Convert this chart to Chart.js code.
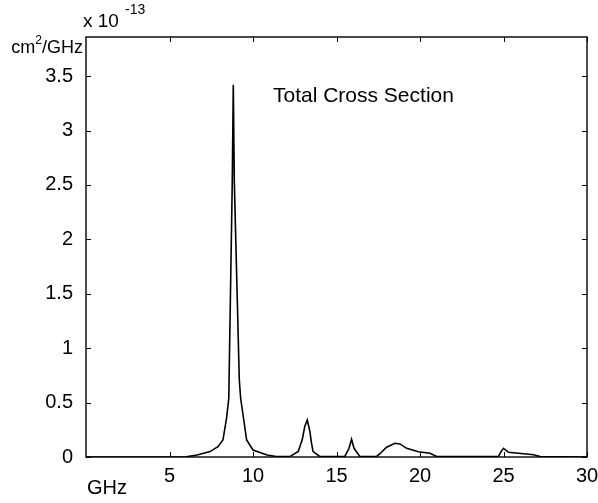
<!DOCTYPE html>
<html>
<head>
<meta charset="utf-8">
<script src="https://cdn.jsdelivr.net/npm/chart.js@4/dist/chart.umd.min.js"></script>
<style>
  html, body { margin: 0; padding: 0; background: #fff; }
  canvas { display: block; }
</style>
</head>
<body>
<canvas id="c" width="598" height="503"></canvas>
<script>
// ---- data ----
const freqGHz = [0, 5.9, 6.65, 7.43, 7.9, 8.2, 8.42, 8.55, 8.76, 8.82, 8.88, 9.18, 9.26, 9.62, 10.0, 10.84, 11.4,
  12.2, 12.71, 12.95, 13.1, 13.25, 13.4, 13.5, 13.6, 14.0,
  15.5, 15.75, 15.9, 16.05, 16.4,
  17.4, 17.6, 18.0, 18.5, 18.8, 19.2, 19.9, 20.6, 21.0,
  24.7, 24.85, 25.0, 25.15, 25.3, 26.8, 27.2, 30];
const crossSection = [0, 0, 0.018, 0.05, 0.095, 0.156, 0.36, 0.54, 2.54, 3.42, 2.54, 0.707, 0.54, 0.156, 0.064, 0.018, 0.005,
  0.004, 0.05, 0.16, 0.28, 0.34, 0.24, 0.13, 0.05, 0.005,
  0.005, 0.08, 0.163, 0.08, 0.005,
  0.005, 0.03, 0.09, 0.126, 0.12, 0.08, 0.049, 0.034, 0.005,
  0.005, 0.05, 0.08, 0.06, 0.043, 0.02, 0.004, 0];
const xTicks = [5, 10, 15, 20, 25, 30];
const yTicks = [0, 0.5, 1, 1.5, 2, 2.5, 3, 3.5];
const yLabels = ['0', '0.5', '1', '1.5', '2', '2.5', '3', '3.5'];
const plotTitle = 'Total Cross Section';
const xUnit = 'GHz';
const yUnit = 'cm²/GHz';

const FONT = '"Liberation Sans", Arial, Helvetica, sans-serif';

const boxPlugin = {
  id: 'boxPlugin',
  afterDraw(chart) {
    const ctx = chart.ctx;
    const a = chart.chartArea;
    const xs = chart.scales.x, ys = chart.scales.y;
    const tl = 5;
    ctx.save();
    ctx.strokeStyle = '#000';
    ctx.lineWidth = 1.4;
    ctx.strokeRect(a.left, a.top, a.right - a.left, a.bottom - a.top);
    ctx.lineWidth = 1;
    ctx.beginPath();
    xTicks.forEach(v => {
      const px = Math.round(xs.getPixelForValue(v)) + 0.5;
      ctx.moveTo(px, a.bottom); ctx.lineTo(px, a.bottom - tl);
      ctx.moveTo(px, a.top); ctx.lineTo(px, a.top + tl);
    });
    yTicks.forEach(v => {
      const py = Math.round(ys.getPixelForValue(v)) + 0.5;
      ctx.moveTo(a.left, py); ctx.lineTo(a.left + tl, py);
      ctx.moveTo(a.right, py); ctx.lineTo(a.right - tl, py);
    });
    ctx.stroke();

    ctx.fillStyle = '#000';
    ctx.textBaseline = 'middle';
    // title inside plot
    ctx.font = '21px ' + FONT;
    ctx.textAlign = 'left';
    ctx.fillText(plotTitle, 273, 96);
    // x unit
    ctx.font = '20px ' + FONT;
    ctx.fillText(xUnit, 87, 488);
    // y unit with superscript
    ctx.textAlign = 'right';
    ctx.font = '18px ' + FONT;
    const tail = '/GHz';
    const tailW = ctx.measureText(tail).width;
    const rightEdge = 83;
    ctx.fillText(tail, rightEdge, 48);
    ctx.font = '12px ' + FONT;
    const supW = ctx.measureText('2').width;
    ctx.fillText('2', rightEdge - tailW, 41);
    ctx.font = '18px ' + FONT;
    ctx.fillText('cm', rightEdge - tailW - supW, 48);
    // exponent
    ctx.textAlign = 'left';
    ctx.font = '19px ' + FONT;
    ctx.fillText('x 10', 83, 22);
    ctx.font = '14px ' + FONT;
    ctx.fillText('-13', 125, 10);
    ctx.restore();
  }
};

new Chart(document.getElementById('c'), {
  type: 'scatter',
  data: {
    datasets: [{
      data: freqGHz.map((f, i) => ({ x: f, y: crossSection[i] })),
      showLine: true,
      borderColor: '#000',
      borderWidth: 1.6,
      pointRadius: 0,
      tension: 0,
      fill: false
    }]
  },
  options: {
    responsive: false,
    animation: false,
    devicePixelRatio: 1,
    layout: { padding: { top: 37, right: 11, left: 0, bottom: 0 } },
    plugins: { legend: { display: false }, tooltip: { enabled: false } },
    scales: {
      x: {
        type: 'linear',
        min: 0, max: 30,
        afterBuildTicks: s => { s.ticks = xTicks.map(v => ({ value: v })); },
        afterFit: s => { s.height = 46; s.paddingLeft = 0; s.paddingRight = 0; },
        grid: { display: false, drawTicks: false },
        border: { display: false },
        ticks: {
          autoSkip: false, maxRotation: 0, padding: 7,
          color: '#000', font: { family: FONT, size: 20 },
          callback: v => String(v)
        }
      },
      y: {
        type: 'linear',
        min: 0, max: 3.86,
        afterBuildTicks: s => { s.ticks = yTicks.map(v => ({ value: v })); },
        afterFit: s => { s.width = 86; s.paddingTop = 0; s.paddingBottom = 0; },
        grid: { display: false, drawTicks: false },
        border: { display: false },
        ticks: {
          autoSkip: false, padding: 13,
          color: '#000', font: { family: FONT, size: 20 },
          callback: v => yLabels[yTicks.indexOf(v)]
        }
      }
    }
  },
  plugins: [boxPlugin]
});
</script>
</body>
</html>
